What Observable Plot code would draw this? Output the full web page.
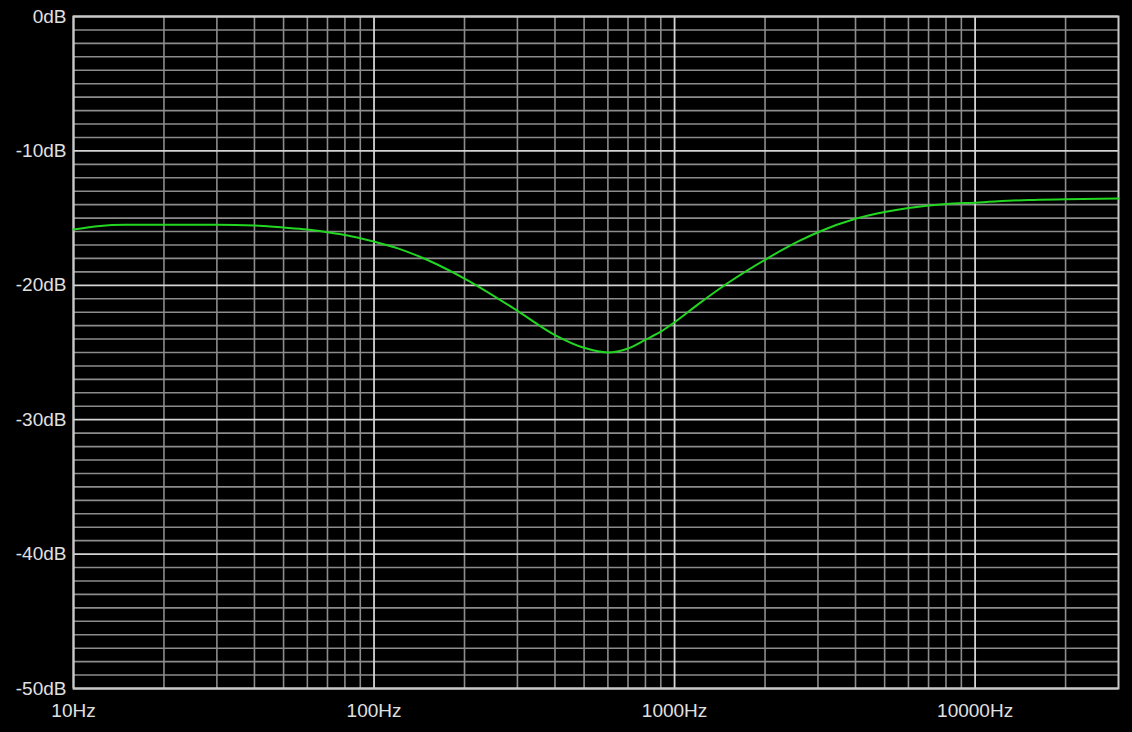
<!DOCTYPE html>
<html>
<head>
<meta charset="utf-8">
<script src="https://cdn.jsdelivr.net/npm/d3@7"></script>
<script src="https://cdn.jsdelivr.net/npm/@observablehq/plot@0.6"></script>
<style>
  html, body { margin: 0; padding: 0; background: #000; }
  #chart { width: 1132px; height: 732px; }
</style>
</head>
<body>
<div id="chart"></div>
<script>
// Frequency response (Hz, dB)
const freqs = [10, 12, 15, 20, 30, 40, 50, 60, 70, 80, 90, 100, 120, 150, 200, 300, 400, 500, 600, 700, 800, 900, 1000, 1200, 1500, 2000, 2600, 3000, 4000, 5000, 6000, 8000, 10000, 15000, 20000, 30000];
const gains = [-15.85, -15.6, -15.5, -15.5, -15.5, -15.55, -15.7, -15.85, -16.05, -16.25, -16.5, -16.75, -17.25, -18.1, -19.5, -21.9, -23.7, -24.65, -25.0, -24.7, -24.05, -23.45, -22.75, -21.4, -19.85, -18.1, -16.7, -16.05, -15.05, -14.55, -14.25, -13.95, -13.85, -13.65, -13.6, -13.55];

const xMajor = [10, 100, 1000, 10000];
const xMinor = [20, 30, 40, 50, 60, 70, 80, 90, 200, 300, 400, 500, 600, 700, 800, 900, 2000, 3000, 4000, 5000, 6000, 7000, 8000, 9000, 20000];
const yMajor = [0, -10, -20, -30, -40, -50];
const yMinor = d3.range(-49, 0).filter(v => v % 10 !== 0);

const data = freqs.map((f, i) => ({f, g: gains[i]}));

const chart = Plot.plot({
  width: 1132,
  height: 732,
  marginLeft: 73,
  marginRight: 14,
  marginTop: 16,
  marginBottom: 44,
  style: {background: "#000", color: "#e0e0e0", fontFamily: "'Liberation Sans', Arial, sans-serif", fontSize: "19px"},
  x: {type: "log", domain: [10, 30000]},
  y: {domain: [-50, 0]},
  marks: [
    Plot.ruleX(xMinor, {stroke: "#8c8c8c", strokeWidth: 1.6}),
    Plot.ruleY(yMinor, {stroke: "#8c8c8c", strokeWidth: 1.6}),
    Plot.ruleX(xMajor, {stroke: "#d4d4d4", strokeWidth: 1.8}),
    Plot.ruleY(yMajor, {stroke: "#d4d4d4", strokeWidth: 1.8}),
    Plot.frame({stroke: "#c8c8c8", strokeWidth: 2}),
    Plot.axisY(yMajor, {tickSize: 0, tickPadding: 7, tickFormat: d => d + "dB", fontSize: 19, fill: "#e0e0e0", label: null}),
    Plot.axisX(xMajor, {tickSize: 0, tickPadding: 15, tickFormat: d => d + "Hz", fontSize: 19, fill: "#e0e0e0", label: null}),
    Plot.line(data, {x: "f", y: "g", stroke: "#22d622", strokeWidth: 2, curve: "monotone-x"})
  ]
});
document.getElementById("chart").appendChild(chart);
</script>
</body>
</html>
